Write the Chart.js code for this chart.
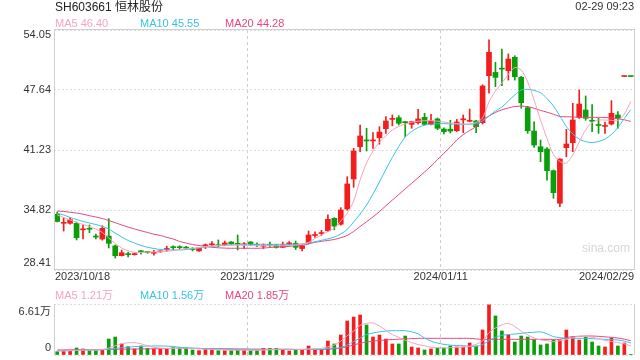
<!DOCTYPE html>
<html>
<head>
<meta charset="utf-8">
<title>SH603661 恒林股份</title>
<script src="https://cdn.jsdelivr.net/npm/chart.js@4.4.1/dist/chart.umd.min.js"></script>
<style>
  html, body { margin: 0; padding: 0; background: #fff; }
  #wrap { position: relative; width: 640px; height: 360px; overflow: hidden; }
  #kline { position: absolute; left: 0; top: 0; }
  #vol { position: absolute; left: 0; top: 285px; }
</style>
</head>
<body>
<div id="wrap">
  <canvas id="kline" width="640" height="290"></canvas>
  <canvas id="vol" width="640" height="75"></canvas>
</div>
<script>
// trading days shown
const dates = [
  '2023/10/18','2023/10/19','2023/10/20','2023/10/23','2023/10/24','2023/10/25','2023/10/26','2023/10/27','2023/10/30','2023/10/31',
  '2023/11/01','2023/11/02','2023/11/03','2023/11/06','2023/11/07','2023/11/08','2023/11/09','2023/11/10','2023/11/13','2023/11/14',
  '2023/11/15','2023/11/16','2023/11/17','2023/11/20','2023/11/21','2023/11/22','2023/11/23','2023/11/24','2023/11/27','2023/11/28',
  '2023/11/29','2023/11/30','2023/12/01','2023/12/04','2023/12/05','2023/12/06','2023/12/07','2023/12/08','2023/12/11','2023/12/12',
  '2023/12/13','2023/12/14','2023/12/15','2023/12/18','2023/12/19','2023/12/20','2023/12/21','2023/12/22','2023/12/25','2023/12/26',
  '2023/12/27','2023/12/28','2023/12/29','2024/01/02','2024/01/03','2024/01/04','2024/01/05','2024/01/08','2024/01/09','2024/01/10',
  '2024/01/11','2024/01/12','2024/01/15','2024/01/16','2024/01/17','2024/01/18','2024/01/19','2024/01/22','2024/01/23','2024/01/24',
  '2024/01/25','2024/01/26','2024/01/29','2024/01/30','2024/01/31','2024/02/01','2024/02/02','2024/02/05','2024/02/06','2024/02/07',
  '2024/02/08','2024/02/19','2024/02/20','2024/02/21','2024/02/22','2024/02/23','2024/02/26','2024/02/27','2024/02/28','2024/02/29'
];
const tickLabels = ['2023/10/18', '2023/11/29', '2024/01/11', '2024/02/29'];

const openP = [34.36,33.40,33.40,33.40,32.70,32.82,31.98,31.72,32.04,30.99,
  29.94,30.10,30.05,30.40,30.33,30.20,30.35,30.60,30.85,30.85,
  30.80,30.65,30.45,31.00,31.10,31.05,31.10,31.40,31.20,31.10,
  31.40,31.10,30.95,31.15,31.08,30.83,31.20,31.25,30.70,31.33,
  32.10,32.30,32.60,33.93,33.30,34.93,38.13,41.58,42.30,42.20,
  42.54,43.51,44.50,44.68,44.20,43.97,44.15,44.72,43.97,44.55,
  43.47,43.45,43.29,44.45,44.30,44.33,44.15,49.17,49.52,49.93,
  49.70,51.13,49.00,45.75,43.26,41.58,41.34,39.02,35.54,41.48,
  42.01,44.72,45.50,44.40,43.95,43.75,44.01,44.97,49.08,49.08];
const highP = [34.61,33.96,34.00,33.54,33.22,33.22,32.25,33.14,33.90,31.08,
  30.55,30.33,30.20,30.50,30.40,30.50,30.45,30.95,31.00,31.00,
  30.95,30.80,30.80,31.20,31.45,31.62,31.50,31.45,32.15,31.35,
  31.45,31.30,31.20,31.40,31.15,31.40,31.45,31.50,31.10,32.58,
  32.48,32.65,34.30,34.00,35.07,38.38,41.41,43.90,43.55,43.08,
  43.72,44.79,44.97,44.90,44.30,44.30,45.58,45.15,45.04,44.65,
  43.60,44.40,44.50,44.97,45.60,44.40,48.20,53.00,50.60,52.02,
  51.50,51.30,49.10,45.90,44.25,42.30,41.50,39.10,40.30,43.44,
  46.22,47.64,47.00,46.07,44.62,44.20,46.50,45.33,49.08,49.08];
const lowP = [33.54,32.57,33.30,31.62,31.72,32.40,31.72,31.60,30.76,29.69,
  29.90,29.80,30.00,30.10,30.20,30.00,30.30,30.40,30.55,30.60,
  30.60,30.45,30.40,30.70,31.00,30.90,31.00,31.10,30.55,30.70,
  31.00,30.90,30.70,30.90,30.75,30.80,31.00,30.60,30.45,31.20,
  31.90,32.10,32.50,32.70,33.20,34.80,37.25,41.05,41.12,41.40,
  41.84,43.01,43.80,43.90,42.65,43.55,44.00,43.90,43.90,43.40,
  42.95,43.05,43.20,43.08,44.25,43.08,44.00,47.30,48.00,48.10,
  48.70,48.70,45.69,43.01,41.50,39.98,38.00,36.07,35.17,40.52,
  41.05,44.60,44.40,43.19,43.01,43.00,43.90,43.55,49.08,49.08];
const closeP = [33.59,33.50,33.78,31.86,32.75,32.76,31.93,32.86,31.26,29.94,
  30.26,30.05,30.12,30.35,30.28,30.26,30.40,30.70,30.80,30.80,
  30.75,30.60,30.75,31.05,31.20,31.00,31.30,31.20,31.15,31.15,
  31.15,31.05,31.00,31.05,30.83,31.10,31.25,30.83,31.00,32.15,
  32.20,32.40,33.83,33.10,34.82,37.60,41.12,42.73,42.20,42.28,
  43.15,44.33,44.55,44.08,44.15,44.25,44.55,43.97,44.33,43.55,
  43.19,43.25,44.22,44.55,44.36,43.72,48.07,51.67,48.99,49.87,
  50.95,49.06,46.28,43.29,41.76,41.05,39.02,36.67,40.27,41.87,
  44.44,46.14,44.62,44.30,43.85,43.82,45.15,44.62,49.08,49.08];

// moving averages as drawn on the chart
const ma5 = [34.29,34.02,33.75,33.48,33.27,33.04,32.79,32.42,31.83,31.24,
  30.76,30.47,30.28,30.29,30.33,30.33,30.37,30.41,30.49,30.60,
  30.69,30.73,30.81,30.92,30.98,31.03,31.06,31.08,31.08,31.05,
  31.03,31.01,31.01,31.01,31.01,31.01,31.03,31.06,31.19,31.35,
  31.78,32.15,32.52,32.90,33.65,34.45,35.78,38.03,39.84,41.12,
  42.09,42.73,43.37,43.74,44.01,44.19,44.30,44.36,44.36,44.31,
  44.22,44.11,44.06,44.01,44.01,44.17,44.65,46.36,47.53,48.39,
  49.30,50.04,49.77,48.50,46.57,44.43,42.46,40.75,40.00,39.84,
  40.70,42.09,43.37,44.17,44.43,44.43,44.40,44.38,45.08,46.40];
const ma10 = [34.45,34.29,34.02,33.81,33.59,33.43,33.27,33.06,32.79,32.36,
  31.94,31.56,31.29,31.03,30.84,30.71,30.60,30.55,30.55,30.55,
  30.60,30.69,30.76,30.87,30.92,31.00,31.05,31.08,31.11,31.14,
  31.15,31.15,31.15,31.15,31.15,31.15,31.15,31.15,31.19,31.29,
  31.43,31.58,31.74,31.94,32.26,32.74,33.54,34.39,35.35,36.53,
  37.81,39.15,40.43,41.60,42.62,43.21,43.63,43.88,43.99,44.03,
  44.05,44.01,43.98,43.95,43.98,44.06,44.33,44.86,45.40,45.82,
  46.46,47.11,47.64,47.71,47.59,47.35,46.73,45.93,44.86,43.74,
  42.94,42.40,42.12,42.03,42.14,42.40,42.89,43.63,44.60,45.55];
const ma20 = [34.71,34.66,34.58,34.50,34.37,34.21,34.07,33.91,33.70,33.46,
  33.22,33.00,32.79,32.60,32.42,32.23,32.10,31.90,31.72,31.46,
  31.29,31.13,31.03,30.92,30.84,30.78,30.75,30.73,30.73,30.73,
  30.73,30.73,30.76,30.81,30.87,30.90,30.94,31.00,31.06,31.19,
  31.37,31.47,31.57,31.67,31.86,32.10,32.53,33.06,33.56,34.09,
  34.65,35.27,35.88,36.47,37.08,37.67,38.27,38.88,39.51,40.19,
  40.88,41.56,42.30,42.87,43.31,43.74,44.40,44.86,45.24,45.52,
  45.72,45.88,45.91,45.86,45.69,45.46,45.27,45.05,44.81,44.78,
  44.76,44.73,44.72,44.72,44.72,44.70,44.65,44.56,44.46,44.28];

// volume, in 万 (10k shares)
const volume = [0.43,0.56,0.56,0.91,0.78,0.56,0.56,0.73,2.07,2.33,
  1.43,1.08,0.78,1.17,0.86,0.78,0.78,0.82,0.95,0.95,
  0.95,0.65,0.56,0.78,0.78,0.56,0.56,0.56,0.65,0.65,
  0.56,0.56,0.86,0.86,0.86,0.73,0.52,0.73,0.65,1.17,
  0.78,0.73,1.81,1.43,2.59,4.41,4.92,5.18,3.89,2.33,
  2.59,2.07,1.43,1.43,2.46,1.04,0.91,0.65,0.78,0.91,
  0.91,1.17,1.04,1.04,1.56,1.17,3.24,6.50,5.06,3.11,
  2.59,1.68,2.46,2.33,1.94,1.30,1.43,1.94,1.94,3.24,
  2.33,1.94,2.33,1.68,1.17,1.04,2.20,1.17,1.56,0.08];
const volMa5 = [0.52,0.52,0.55,0.60,0.62,0.65,0.65,0.70,0.90,1.20,
  1.45,1.58,1.60,1.45,1.20,1.00,0.90,0.86,0.85,0.85,
  0.88,0.85,0.80,0.75,0.72,0.68,0.65,0.62,0.62,0.62,
  0.60,0.62,0.65,0.70,0.75,0.78,0.76,0.74,0.72,0.80,
  0.80,0.86,1.05,1.30,1.80,2.50,3.10,3.85,4.10,4.15,
  3.75,3.20,2.65,2.30,1.90,1.60,1.35,1.20,1.00,0.95,
  0.92,0.95,0.98,1.02,1.10,1.40,1.80,2.90,3.50,3.90,
  4.10,3.70,3.10,2.60,2.20,1.94,1.85,1.73,1.85,2.00,
  2.25,2.45,2.40,2.30,2.10,1.90,1.75,1.60,1.45,1.21];
const volMa10 = [0.56,0.56,0.58,0.60,0.62,0.64,0.66,0.68,0.75,0.85,
  0.95,1.02,1.08,1.12,1.15,1.17,1.17,1.15,1.10,1.00,
  0.95,0.90,0.86,0.82,0.80,0.78,0.75,0.72,0.70,0.68,
  0.66,0.66,0.67,0.68,0.70,0.70,0.70,0.70,0.72,0.72,
  0.73,0.75,0.85,0.90,0.95,1.30,1.73,2.20,2.65,2.85,
  3.00,3.10,3.15,3.15,3.15,3.00,2.75,2.20,1.80,1.55,
  1.38,1.28,1.23,1.20,1.15,1.10,1.35,1.85,2.30,2.55,
  2.65,2.72,2.80,2.90,2.95,3.00,2.75,2.38,2.25,2.16,
  2.16,2.16,2.16,2.12,2.08,2.03,2.00,1.94,1.80,1.56];
const volMa20 = [0.65,0.66,0.67,0.68,0.69,0.70,0.71,0.72,0.73,0.74,
  0.75,0.76,0.77,0.78,0.79,0.80,0.82,0.84,0.86,0.87,
  0.87,0.86,0.85,0.84,0.83,0.82,0.81,0.80,0.79,0.78,
  0.77,0.76,0.76,0.75,0.74,0.73,0.73,0.72,0.72,0.71,
  0.70,0.70,0.75,0.80,0.90,1.08,1.30,1.52,1.68,1.78,
  1.88,1.95,2.00,2.05,2.08,2.12,2.16,2.16,2.16,2.16,
  2.16,2.16,2.16,2.16,2.16,2.08,2.03,2.03,2.03,2.03,
  2.03,2.03,2.03,2.03,2.03,2.03,2.03,2.03,2.03,2.25,
  2.38,2.42,2.46,2.46,2.42,2.35,2.29,2.20,2.05,1.85];

const priceTicks = [28.41, 34.82, 41.23, 47.64, 54.05];
const volTicks = [0, 6.61];

const RED = '#f31d1d';
const GREEN = '#0a9f0a';
const C_MA5 = '#f5a3bd';
const C_MA10 = '#38c2e4';
const C_MA20 = '#e8457f';
const FRAME = '#cfcfcf';
const FONT = '"Liberation Sans", Arial, "Noto Sans CJK SC", sans-serif';

const candleColors = closeP.map((c, i) => {
  const o = openP[i];
  if (c > o) return RED;
  if (c < o) return GREEN;
  return i > 0 && c > closeP[i - 1] ? RED : GREEN;
});

const gridIdx = tickLabels.slice(1, -1).map(d => dates.indexOf(d));
const last = dates.length - 1;

function xScaleOpts() {
  return {
    type: 'category',
    offset: true,
    grid: {
      offset: true,
      drawTicks: false,
      lineWidth: 1,
      color: c => gridIdx.includes(c.index) ? '#cccccc' : 'rgba(0,0,0,0)'
    },
    border: { display: false, dash: [3, 3] },
    ticks: { display: false, autoSkip: false },
    afterFit: s => { s.height = 0; }
  };
}

function lineDs(label, data, color) {
  return {
    type: 'line', label, data,
    borderColor: color, borderWidth: 1,
    pointRadius: 0, tension: 0.3, fill: false, order: 0
  };
}

function text(ctx, str, x, y, color, size, align) {
  ctx.font = size + 'px ' + FONT;
  ctx.fillStyle = color;
  ctx.textAlign = align || 'left';
  ctx.textBaseline = 'middle';
  ctx.fillText(str, x, y);
}

const klineText = {
  id: 'klineText',
  afterDraw(chart) {
    const { ctx, chartArea: a, scales: { x, y } } = chart;
    ctx.save();
    ctx.strokeStyle = FRAME;
    ctx.lineWidth = 1;
    ctx.strokeRect(a.left + 0.5, a.top - 0.5, a.right - a.left, a.bottom - a.top);

    // price labels
    priceTicks.forEach((v, i) => {
      let py = y.getPixelForValue(v);
      if (i === priceTicks.length - 1) py += 5;
      if (i === 0) py -= 7;
      text(ctx, v.toFixed(2), a.left - 3, py, '#333', 11, 'right');
    });

    // date labels
    const slot = x.getPixelForValue(1) - x.getPixelForValue(0);
    tickLabels.forEach((d, i) => {
      const idx = dates.indexOf(d);
      if (i === 0) text(ctx, d, a.left + 1, 277, '#333', 11, 'left');
      else if (i === tickLabels.length - 1) text(ctx, d, a.right, 277, '#333', 11, 'right');
      else text(ctx, d, x.getPixelForValue(idx) - slot / 2, 277, '#333', 11, 'center');
    });

    // header
    text(ctx, 'SH603661 恒林股份', 55, 8, '#222', 12, 'left');
    text(ctx, '02-29 09:23', 634, 7, '#333', 11, 'right');
    text(ctx, 'MA5 ' + ma5[last].toFixed(2), 55, 24, C_MA5, 11, 'left');
    text(ctx, 'MA10 ' + ma10[last].toFixed(2), 140, 24, C_MA10, 11, 'left');
    text(ctx, 'MA20 ' + ma20[last].toFixed(2), 225, 24, C_MA20, 11, 'left');

    text(ctx, 'sina.com', 582, 249, '#d6d6d6', 12, 'left');
    ctx.restore();
  }
};

const volText = {
  id: 'volText',
  afterDraw(chart) {
    const { ctx, chartArea: a, scales: { y } } = chart;
    ctx.save();
    ctx.strokeStyle = FRAME;
    ctx.lineWidth = 1;
    ctx.beginPath();
    ctx.moveTo(a.left + 0.5, a.top);
    ctx.lineTo(a.left + 0.5, a.bottom);
    ctx.moveTo(a.right + 0.5, a.top);
    ctx.lineTo(a.right + 0.5, a.bottom);
    ctx.stroke();

    text(ctx, volTicks[1] + '万', a.left - 3, y.getPixelForValue(volTicks[1]) + 8, '#333', 11, 'right');
    text(ctx, String(volTicks[0]), a.left - 3, y.getPixelForValue(volTicks[0]) - 7, '#333', 11, 'right');

    text(ctx, 'MA5 ' + volMa5[last].toFixed(2) + '万', 55, 10.5, C_MA5, 11, 'left');
    text(ctx, 'MA10 ' + volMa10[last].toFixed(2) + '万', 140, 10.5, C_MA10, 11, 'left');
    text(ctx, 'MA20 ' + volMa20[last].toFixed(2) + '万', 225, 10.5, C_MA20, 11, 'left');
    ctx.restore();
  }
};

new Chart(document.getElementById('kline'), {
  type: 'bar',
  data: {
    labels: dates,
    datasets: [
      lineDs('MA5', ma5, C_MA5),
      lineDs('MA10', ma10, C_MA10),
      lineDs('MA20', ma20, C_MA20),
      {
        label: 'body',
        data: openP.map((o, i) => [o, closeP[i]]),
        backgroundColor: candleColors,
        barThickness: 5,
        minBarLength: 1,
        grouped: false,
        borderWidth: 0,
        order: 1
      },
      {
        label: 'wick',
        data: lowP.map((l, i) => [l, highP[i]]),
        backgroundColor: candleColors,
        barThickness: 1,
        grouped: false,
        borderWidth: 0,
        order: 2
      }
    ]
  },
  options: {
    responsive: false,
    animation: false,
    devicePixelRatio: 1,
    layout: { padding: { left: 54, right: 6, top: 30, bottom: 20 } },
    plugins: { legend: { display: false }, tooltip: { enabled: false } },
    scales: {
      x: xScaleOpts(),
      y: {
        min: priceTicks[0],
        max: priceTicks[priceTicks.length - 1],
        afterBuildTicks: ax => { ax.ticks = priceTicks.map(v => ({ value: v })); },
        grid: { drawTicks: false, color: '#dddddd', lineWidth: 1 },
        border: { display: false, dash: [2, 2] },
        ticks: { display: false },
        afterFit: s => { s.width = 0; }
      }
    }
  },
  plugins: [klineText]
});

new Chart(document.getElementById('vol'), {
  type: 'bar',
  data: {
    labels: dates,
    datasets: [
      lineDs('MA5', volMa5, C_MA5),
      lineDs('MA10', volMa10, C_MA10),
      lineDs('MA20', volMa20, C_MA20),
      {
        label: 'volume',
        data: volume,
        backgroundColor: candleColors,
        barThickness: 3,
        grouped: false,
        borderWidth: 0,
        order: 1
      }
    ]
  },
  options: {
    responsive: false,
    animation: false,
    devicePixelRatio: 1,
    layout: { padding: { left: 54, right: 6, top: 19, bottom: 5 } },
    plugins: { legend: { display: false }, tooltip: { enabled: false } },
    scales: {
      x: xScaleOpts(),
      y: {
        min: volTicks[0],
        max: volTicks[1],
        afterBuildTicks: ax => { ax.ticks = volTicks.map(v => ({ value: v })); },
        grid: { drawTicks: false, color: '#dddddd', lineWidth: 1 },
        border: { display: false, dash: [2, 2] },
        ticks: { display: false },
        afterFit: s => { s.width = 0; }
      }
    }
  },
  plugins: [volText]
});
</script>
</body>
</html>
